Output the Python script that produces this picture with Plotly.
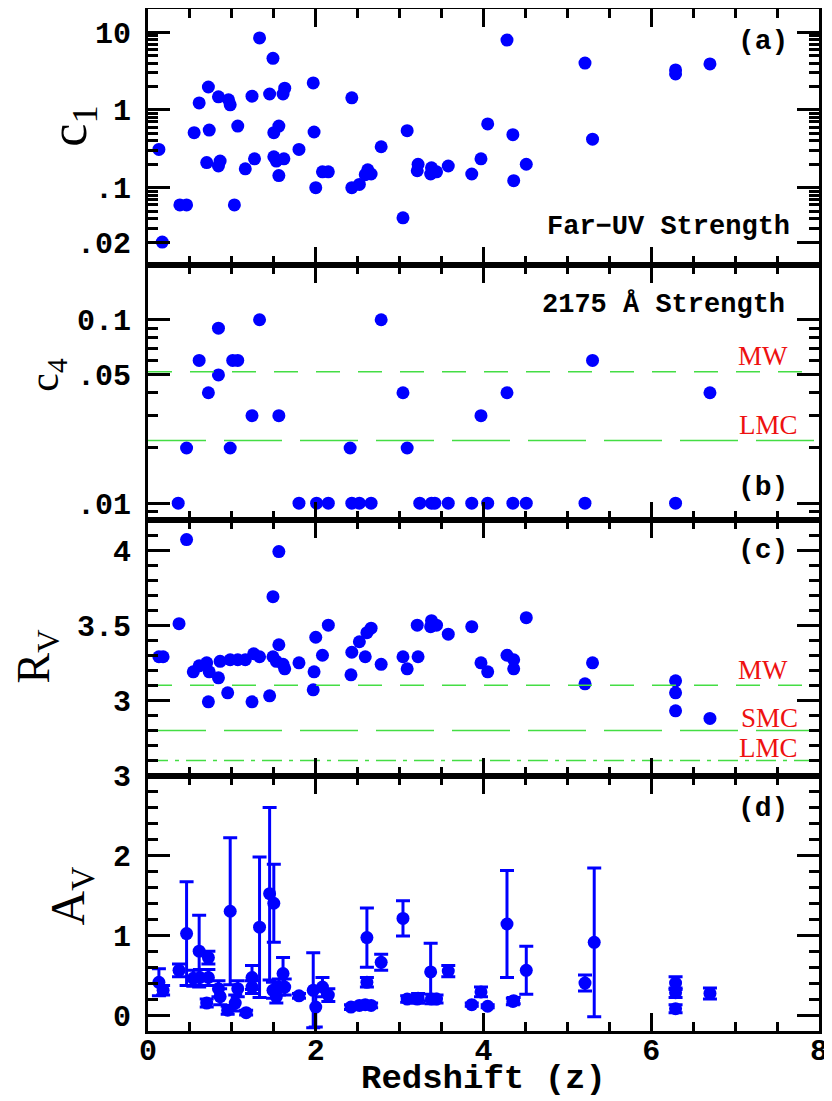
import numpy as np
import plotly.graph_objects as go
from plotly.subplots import make_subplots

# (a) far-UV strength c1
Z_C1 = [0.13, 0.17, 0.38, 0.46, 0.55, 0.61, 0.72, 0.73, 0.70, 0.84, 0.96, 0.98, 0.86, 0.84, 1.07,
        1.03, 1.16, 1.27, 1.24, 1.33, 1.45, 1.49, 1.50, 1.56, 1.61, 1.63, 1.50, 1.53, 1.62, 1.56,
        1.80, 1.97, 1.98, 2.00, 2.08, 2.15, 2.43, 2.43, 2.52, 2.59, 2.62, 2.66, 2.78, 3.04, 3.09,
        3.22, 3.21, 3.38, 3.37, 3.44, 3.58, 3.86, 3.97, 4.05, 4.28, 4.35, 4.36, 4.51, 5.21, 5.30,
        6.29, 6.29, 6.70]
C1 = [0.31, 0.02, 0.06, 0.06, 0.51, 1.23, 1.97, 0.55, 0.21, 1.47, 1.35, 1.16, 0.22, 0.19, 0.62,
      0.06, 0.175, 0.235, 1.5, 8.4, 1.6, 4.6, 0.51, 0.62, 1.6, 1.9, 0.25, 0.22, 0.235, 0.143,
      0.31, 2.22, 0.52, 0.10, 0.16, 0.16, 1.43, 0.10, 0.11, 0.147, 0.17, 0.15, 0.336, 0.041, 0.54,
      0.20, 0.165, 0.18, 0.15, 0.16, 0.19, 0.15, 0.235, 0.66, 7.9, 0.48, 0.123, 0.20, 4.0, 0.42,
      3.26, 2.9, 3.9]

# (b) 2175 A bump strength c4
Z_C4 = [0.36, 0.46, 0.61, 0.72, 0.84, 0.84, 0.98, 1.01, 1.07, 1.24, 1.33, 1.56, 1.80, 2.01, 2.15,
        2.41, 2.43, 2.52, 2.66, 2.78, 3.04, 3.09, 3.24, 3.38, 3.42, 3.58, 3.86, 3.97, 4.05, 4.28,
        4.35, 4.51, 5.21, 5.30, 6.29, 6.70]
C4 = [0.01, 0.02, 0.06, 0.04, 0.09, 0.05, 0.02, 0.06, 0.06, 0.03, 0.1, 0.03, 0.01, 0.01, 0.01,
      0.02, 0.01, 0.01, 0.01, 0.1, 0.04, 0.02, 0.01, 0.01, 0.01, 0.01, 0.01, 0.03, 0.01, 0.04,
      0.01, 0.01, 0.01, 0.06, 0.01, 0.04]
C4_REF = {"MW": 0.052, "LMC": 0.022}

# (c) R_V
Z_RV = [0.13, 0.18, 0.37, 0.46, 0.54, 0.61, 0.70, 0.73, 0.72, 0.84, 0.86, 0.95, 0.98, 1.07, 1.16,
        1.26, 1.24, 1.33, 1.45, 1.49, 1.49, 1.56, 1.56, 1.53, 1.61, 1.63, 1.80, 1.97, 1.98, 2.00,
        2.08, 2.15, 2.42, 2.43, 2.52, 2.59, 2.61, 2.66, 2.78, 3.04, 3.09, 3.21, 3.22, 3.38, 3.37,
        3.44, 3.58, 3.86, 3.97, 4.05, 4.28, 4.36, 4.36, 4.51, 5.21, 5.30, 6.29, 6.29, 6.29, 6.70]
RV = [3.29, 3.29, 3.51, 4.07, 3.19, 3.23, 3.25, 3.19, 2.99, 3.15, 3.26, 3.05, 3.27, 3.27, 3.27,
      3.31, 2.99, 3.29, 3.03, 3.29, 3.69, 3.99, 3.37, 3.26, 3.24, 3.21, 3.25, 3.07, 3.19, 3.42,
      3.30, 3.50, 3.17, 3.32, 3.39, 3.29, 3.45, 3.48, 3.24, 3.29, 3.21, 3.50, 3.29, 3.53, 3.49,
      3.50, 3.44, 3.49, 3.25, 3.19, 3.30, 3.27, 3.21, 3.55, 3.11, 3.25, 3.13, 3.05, 2.93, 2.88]
RV_REF = {"MW": 3.1, "SMC": 2.8, "LMC": 2.6}

# (d) A_V with errors
Z_AV = [0.13, 0.18, 0.37, 0.46, 0.54, 0.61, 0.62, 0.72, 0.72, 0.70, 0.84, 0.86, 0.95, 0.98, 1.04,
        1.07, 1.17, 1.24, 1.24, 1.33, 1.45, 1.49, 1.50, 1.53, 1.56, 1.61, 1.63, 1.80, 1.97, 2.00,
        2.08, 2.15, 2.42, 2.52, 2.59, 2.61, 2.61, 2.66, 2.78, 3.04, 3.09, 3.21, 3.22, 3.37, 3.38,
        3.44, 3.58, 3.86, 3.97, 4.05, 4.28, 4.35, 4.36, 4.51, 5.21, 5.32, 6.29, 6.29, 6.29, 6.70]
AV = [0.41, 0.31, 0.56, 1.02, 0.46, 0.80, 0.47, 0.72, 0.47, 0.15, 0.33, 0.23, 0.06, 1.30, 0.15,
      0.33, 0.03, 0.47, 0.35, 1.10, 1.52, 0.31, 1.40, 0.23, 0.35, 0.52, 0.35, 0.24, 0.31, 0.10,
      0.35, 0.25, 0.10, 0.12, 0.13, 0.97, 0.41, 0.12, 0.66, 1.21, 0.20, 0.20, 0.21, 0.54, 0.20,
      0.20, 0.55, 0.13, 0.29, 0.11, 1.14, 0.17, 0.18, 0.56, 0.40, 0.91, 0.40, 0.28, 0.08, 0.27]
AV_ERR = [0.17, 0.06, 0.08, 0.65, 0.10, 0.45, 0.10, 0.08, 0.10, 0.05, 0.10, 0.10, 0.05, 0.92, 0.10,
          0.10, 0.03, 0.15, 0.08, 0.88, 1.08, 0.10, 0.49, 0.08, 0.10, 0.20, 0.10, 0.03, 0.47, 0.25,
          0.12, 0.08, 0.03, 0.03, 0.04, 0.37, 0.06, 0.03, 0.10, 0.22, 0.04, 0.05, 0.06, 0.36, 0.06,
          0.05, 0.07, 0.02, 0.06, 0.02, 0.67, 0.04, 0.04, 0.30, 0.10, 0.93, 0.08, 0.06, 0.05, 0.07]

BLUE = "#0000ff"
GREEN = "#44dd44"
RED = "#ee1111"
MONO = "Liberation Mono"
SERIF = "Liberation Serif"

fig = make_subplots(rows=4, cols=1, shared_xaxes=True, vertical_spacing=0)

dot = dict(color=BLUE, size=13, line=dict(width=0))
fig.add_trace(go.Scatter(x=Z_C1, y=C1, mode="markers", marker=dot), row=1, col=1)
fig.add_trace(go.Scatter(x=Z_C4, y=C4, mode="markers", marker=dot), row=2, col=1)
fig.add_trace(go.Scatter(x=Z_RV, y=RV, mode="markers", marker=dot), row=3, col=1)
fig.add_trace(go.Scatter(x=Z_AV, y=AV, mode="markers", marker=dot,
                         error_y=dict(type="data", array=AV_ERR, color=BLUE, thickness=3, width=7)),
              row=4, col=1)

# reference lines for the Galaxy and the Clouds
dashes = {"MW": "24px,18px", "LMC": "58px,18px"}
for name, val in C4_REF.items():
    fig.add_trace(go.Scatter(x=[0, 8], y=[val, val], mode="lines",
                             line=dict(color=GREEN, width=1.5, dash=dashes[name])), row=2, col=1)
dashes = {"MW": "24px,18px", "SMC": "58px,18px", "LMC": "20px,7px,4px,7px"}
for name, val in RV_REF.items():
    fig.add_trace(go.Scatter(x=[0, 8], y=[val, val], mode="lines",
                             line=dict(color=GREEN, width=1.5, dash=dashes[name])), row=3, col=1)

axis_style = dict(showline=True, linewidth=3, linecolor="black", mirror="ticks", automargin=False,
                  ticks="inside", tickwidth=2.5, tickcolor="black", showgrid=False, zeroline=False,
                  tickfont=dict(family=MONO, size=30, color="black", weight="bold"))
minor_style = dict(ticks="inside", ticklen=10, tickwidth=2.5, tickcolor="black")

for r in range(1, 5):
    fig.update_xaxes(range=[0, 8], tickvals=[0, 2, 4, 6, 8], ticklen=18,
                     minor=dict(dtick=0.5, **dict(minor_style, ticklen=9)),
                     ticklabelstandoff=-10, row=r, col=1, **axis_style)

minor_a = [m * 10.0 ** e for e in (-2, -1, 0) for m in range(2, 10)]
fig.update_yaxes(type="log", range=[np.log10(0.0103), np.log10(19.8)],
                 tickvals=[0.02, 0.1, 1, 10], ticktext=[".02", ".1", "1", "10"], ticklen=22,
                 minor=dict(tickmode="array", tickvals=minor_a, **minor_style),
                 ticklabelstandoff=8, row=1, col=1, **axis_style)
minor_b = [0.009] + [m * 0.01 for m in range(2, 10)]
fig.update_yaxes(type="log", range=[np.log10(0.0081), np.log10(0.2)],
                 tickvals=[0.01, 0.05, 0.1], ticktext=[".01", ".05", "0.1"], ticklen=22,
                 minor=dict(tickmode="array", tickvals=minor_b, **minor_style),
                 ticklabelstandoff=8, row=2, col=1, **axis_style)
fig.update_yaxes(range=[2.5, 4.2], tickvals=[3, 3.5, 4], ticktext=["3", "3.5", "4"], ticklen=22,
                 minor=dict(dtick=0.1, **minor_style),
                 ticklabelstandoff=8, row=3, col=1, **axis_style)
fig.update_yaxes(range=[-0.2, 3.0], tickvals=[0, 1, 2, 3], ticklen=22,
                 minor=dict(dtick=0.2, **minor_style),
                 ticklabelstandoff=8, row=4, col=1, **axis_style)

bold = dict(family=MONO, size=27, color="black", weight="bold")
letter = dict(family=MONO, size=28, color="black", weight="bold")
red = dict(family=SERIF, size=27, color=RED)
notes = [
    (1, "(a)", 0.957, 0.871, letter),
    (1, "Far\u2212UV Strength", 0.96, 0.145, bold),
    (2, "2175 \u00c5 Strength", 0.953, 0.843, bold),
    (2, "MW", 0.957, 0.643, red),
    (2, "LMC", 0.972, 0.373, red),
    (2, "(b)", 0.957, 0.129, letter),
    (3, "(c)", 0.957, 0.879, letter),
    (3, "MW", 0.957, 0.412, red),
    (3, "SMC", 0.972, 0.226, red),
    (3, "LMC", 0.972, 0.109, red),
    (4, "(d)", 0.957, 0.871, letter),
]
for r, text, x, y, f in notes:
    ax = "" if r == 1 else str(r)
    fig.add_annotation(text=text, xref=f"x{ax} domain", yref=f"y{ax} domain", x=x, y=y,
                       xanchor="right", yanchor="middle", showarrow=False, font=f)

# y-axis titles, placed as rotated text left of the tick labels
titles = [
    (1, "c<sub>1</sub>", -0.113, 0.54, 52),
    (2, "c<sub>4</sub>", -0.15, 0.57, 42),
    (3, "R<sub>V</sub>", -0.165, 0.467, 46),
    (4, "A<sub>V</sub>", -0.115, 0.53, 48),
]
for r, text, x, y, size in titles:
    ax = "" if r == 1 else str(r)
    fig.add_annotation(text=text, xref="paper", yref=f"y{ax} domain", x=x, y=y, textangle=-90,
                       xanchor="center", yanchor="middle", showarrow=False,
                       font=dict(family=SERIF, size=size, color="black"))

fig.add_annotation(text="Redshift (z)", xref="paper", yref="paper", x=0.5, y=-0.0675,
                   xanchor="center", yanchor="bottom", showarrow=False,
                   font=dict(family=MONO, size=34, color="black", weight="bold"))

# the page adds an 8 px body margin, so the figure is sized to fit inside the window
fig.update_layout(width=824, height=1093,
                  margin=dict(l=140, r=13, t=1, b=70, autoexpand=False),
                  plot_bgcolor="white", paper_bgcolor="white", showlegend=False)

fig.write_html("out.html")
